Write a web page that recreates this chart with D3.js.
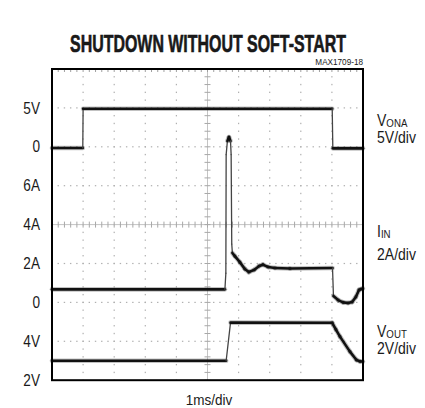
<!DOCTYPE html>
<html>
<head>
<meta charset="utf-8">
<script src="https://cdn.jsdelivr.net/npm/d3@7"></script>
<style>
body{margin:0;background:#fff}
svg{display:block}
text{font-family:"Liberation Sans",Arial,Helvetica,sans-serif;fill:#1a1a1a}
</style>
</head>
<body>
<svg width="425" height="408"></svg>
<script>
// time in ms for every trace
var vonaTime  = [0, 0.99, 1.0, 9.01, 9.03, 10];
var vonaVolts = [-0.15, -0.15, 4.9, 4.9, -0.2, -0.2];

var iinTime = [0, 5.56, 5.59, 5.6, 5.64, 5.69, 5.74, 5.76, 5.78, 5.8, 5.88, 6.04, 6.2, 6.33, 6.5, 6.66, 6.78, 6.95, 7.17, 7.65, 9.02, 9.05, 9.2, 9.36, 9.52, 9.65, 9.77, 9.87, 9.94, 10];
var iinAmps = [0.67, 0.67, 1.5, 7.6, 8.3, 8.5, 8.3, 7.6, 3.0, 2.54, 2.38, 2.07, 1.72, 1.56, 1.67, 1.87, 1.94, 1.82, 1.77, 1.74, 1.77, 0.33, 0.12, 0.0, -0.03, 0.02, 0.28, 0.64, 0.69, 0.71];

var voutTime  = [0, 5.6, 5.74, 9.01, 9.13, 9.26, 9.58, 9.79, 9.9, 10];
var voutVolts = [3.0, 3.0, 4.96, 4.95, 4.6, 4.24, 3.47, 3.04, 2.97, 2.96];

// left hand tick labels per channel
var vonaTicks = [0, 5], vonaLabels = ["0", "5V"];
var iinTicks = [0, 2, 4, 6], iinLabels = ["0", "2A", "4A", "6A"];
var voutTicks = [2, 4], voutLabels = ["2V", "4V"];

var svg = d3.select("svg");
var frame = {left: 52, right: 363, top: 69, bottom: 380.2};

// 10 divisions across (1ms/div), 8 divisions high
var x = d3.scaleLinear().domain([0, 10]).range([frame.left, frame.right]);
var yDiv = d3.scaleLinear().domain([0, 8]).range([frame.bottom, frame.top]);

// each channel gets its own offset + volts/div
var yVona = d3.scaleLinear().domain([0, 5]).range([yDiv(6), yDiv(7)]);
var yIin = d3.scaleLinear().domain([0, 2]).range([yDiv(2), yDiv(3)]);
var yVout = d3.scaleLinear().domain([2, 4]).range([yDiv(0), yDiv(1)]);

// the scope font is a condensed helvetica, squeeze the glyphs a bit
function squeeze(sel, k) {
	sel.each(function() {
		var w = this.getComputedTextLength();
		d3.select(this).attr("textLength", w * k).attr("lengthAdjust", "spacingAndGlyphs");
	});
}

// graticule
var grid = svg.append("g");
var minorX = d3.range(0, 10.001, 0.2), minorY = d3.range(0, 8.001, 0.2);

d3.range(1, 10).filter(function(d) { return d != 5; }).forEach(function(d) {
	grid.selectAll(null).data(minorY).enter().append("rect")
		.attr("x", x(d) - 0.6).attr("y", function(v) { return yDiv(v) - 0.7; })
		.attr("width", 1.2).attr("height", 1.4).attr("fill", "#b0b0b0");
});
d3.range(1, 8).filter(function(d) { return d != 4; }).forEach(function(d) {
	grid.selectAll(null).data(minorX).enter().append("rect")
		.attr("x", function(v) { return x(v) - 0.7; }).attr("y", yDiv(d) - 0.6)
		.attr("width", 1.4).attr("height", 1.2).attr("fill", "#b0b0b0");
});

// centre crosshair with minor ticks
grid.append("line").attr("x1", x(5)).attr("x2", x(5)).attr("y1", frame.top).attr("y2", frame.bottom)
	.attr("stroke", "#c4c4c4").attr("stroke-width", 1);
grid.append("line").attr("x1", frame.left).attr("x2", frame.right).attr("y1", yDiv(4)).attr("y2", yDiv(4))
	.attr("stroke", "#c4c4c4").attr("stroke-width", 1);
grid.selectAll(".ty").data(minorY).enter().append("line")
	.attr("x1", x(5) - 3).attr("x2", x(5) + 3)
	.attr("y1", function(v) { return yDiv(v); }).attr("y2", function(v) { return yDiv(v); })
	.attr("stroke", "#a8a8a8").attr("stroke-width", 1);
grid.selectAll(".tx").data(minorX).enter().append("line")
	.attr("y1", yDiv(4) - 3).attr("y2", yDiv(4) + 3)
	.attr("x1", function(v) { return x(v); }).attr("x2", function(v) { return x(v); })
	.attr("stroke", "#a8a8a8").attr("stroke-width", 1);

// small ticks along the top edge
grid.selectAll(".tt").data(minorX).enter().append("line")
	.attr("y1", frame.top).attr("y2", frame.top + 3)
	.attr("x1", function(v) { return x(v); }).attr("x2", function(v) { return x(v); })
	.attr("stroke", "#a0a0a0").attr("stroke-width", 1);

// traces: fast edges come out thin on the scope, slow parts thick and fuzzy
function drawTrace(ts, vs, y) {
	var pts = ts.map(function(t, i) { return [x(t), y(vs[i])]; });
	var segs = d3.pairs(pts).map(function(p) {
		var dx = Math.abs(p[1][0] - p[0][0]), dy = Math.abs(p[1][1] - p[0][1]);
		return {a: p[0], b: p[1], steep: dy > 8 && dy > 2.5 * dx};
	});
	var g = svg.append("g").attr("stroke-linecap", "round");
	g.selectAll(".fz").data(segs.filter(function(s) { return !s.steep; })).enter().append("line")
		.attr("x1", function(s) { return s.a[0]; }).attr("y1", function(s) { return s.a[1]; })
		.attr("x2", function(s) { return s.b[0]; }).attr("y2", function(s) { return s.b[1]; })
		.attr("stroke", "#333").attr("stroke-opacity", 0.3).attr("stroke-width", 4.6);
	g.selectAll(".sg").data(segs).enter().append("line")
		.attr("x1", function(s) { return s.a[0]; }).attr("y1", function(s) { return s.a[1]; })
		.attr("x2", function(s) { return s.b[0]; }).attr("y2", function(s) { return s.b[1]; })
		.attr("stroke", function(s) { return s.steep ? "#444" : "#111"; })
		.attr("stroke-width", function(s) { return s.steep ? 1.3 : 2.6; });
}
drawTrace(vonaTime, vonaVolts, yVona);
drawTrace(iinTime, iinAmps, yIin);
drawTrace(voutTime, voutVolts, yVout);

// frame
svg.append("rect").attr("x", frame.left).attr("y", frame.top)
	.attr("width", frame.right - frame.left).attr("height", frame.bottom - frame.top)
	.attr("fill", "none").attr("stroke", "#000").attr("stroke-width", 2);

// left labels
function labels(scale, ticks, names) {
	var g = svg.append("g").attr("transform", "translate(" + frame.left + ",0)")
		.call(d3.axisLeft(scale).tickValues(ticks).tickSize(0).tickPadding(12)
			.tickFormat(function(d, i) { return names[i]; }));
	g.select(".domain").remove();
	g.attr("font-family", null).attr("font-size", null);
	g.selectAll("text").attr("font-size", 16).attr("fill", "#1a1a1a").call(squeeze, 0.85);
}
labels(yVona, vonaTicks, vonaLabels);
labels(yIin, iinTicks, iinLabels);
labels(yVout, voutTicks, voutLabels);

// title: heavy condensed, so scale a bold face down horizontally
var title = svg.append("text").attr("text-anchor", "middle")
	.attr("font-size", 24).attr("font-weight", "bold")
	.attr("stroke", "#111").attr("stroke-width", 0.6)
	.text("SHUTDOWN WITHOUT SOFT-START");
var tw = title.node().getComputedTextLength();
title.attr("transform", "translate(208,51.5) scale(" + (276 / tw) + ",1)");

svg.append("text").attr("x", 363).attr("y", 64.5).attr("text-anchor", "end")
	.attr("font-size", 8.6).attr("fill", "#333").text("MAX1709-18").call(squeeze, 0.95);

// channel names on the right
var chan = [
	{name: "V", sub: "ONA", scale: "5V/div", y1: 126, y2: 143},
	{name: "I", sub: "IN", scale: "2A/div", y1: 237, y2: 260},
	{name: "V", sub: "OUT", scale: "2V/div", y1: 336.5, y2: 353.5}
];
chan.forEach(function(c) {
	var t = svg.append("text").attr("x", 377).attr("y", c.y1).attr("font-size", 16.5);
	t.append("tspan").text(c.name).call(squeeze, 0.85);
	t.append("tspan").attr("font-size", 11).attr("dy", 1).text(c.sub).call(squeeze, 0.88);
	svg.append("text").attr("x", 377).attr("y", c.y2).attr("font-size", 16.5).text(c.scale).call(squeeze, 0.85);
});

svg.append("text").attr("x", 209).attr("y", 405).attr("text-anchor", "middle")
	.attr("font-size", 14.5).text("1ms/div").call(squeeze, 0.93);
</script>
</body>
</html>
